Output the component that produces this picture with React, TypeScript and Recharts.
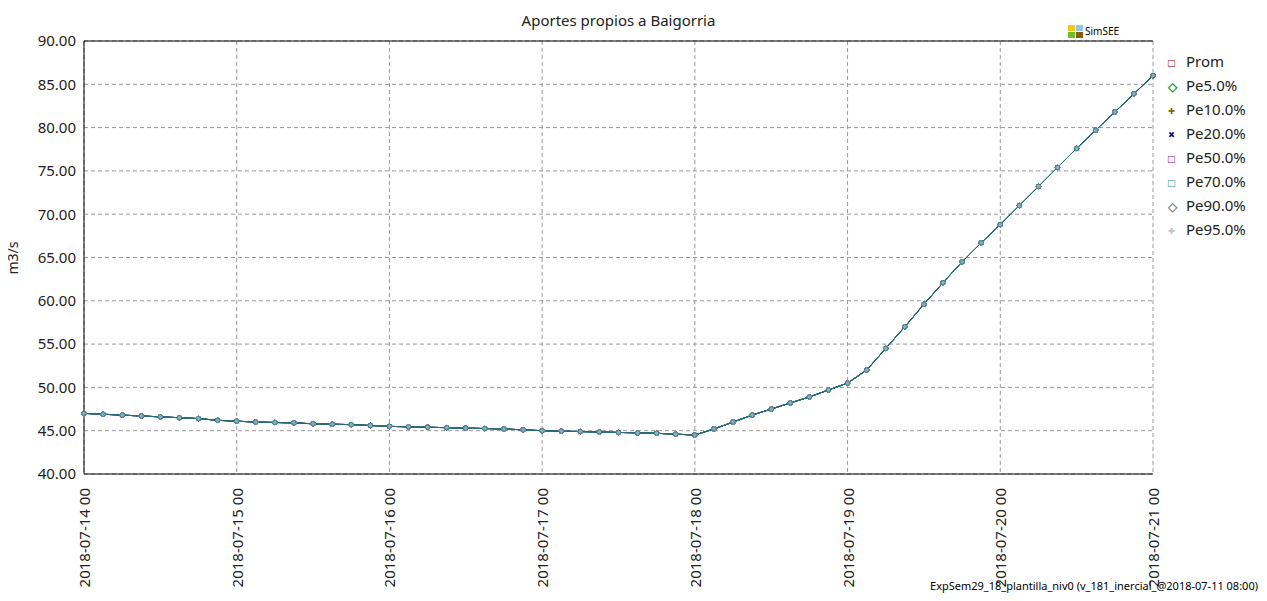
import { CartesianGrid, Line, LineChart, ReferenceLine, XAxis, YAxis } from 'recharts';

const dayLabels = ['2018-07-14 00', '2018-07-15 00', '2018-07-16 00', '2018-07-17 00', '2018-07-18 00', '2018-07-19 00', '2018-07-20 00', '2018-07-21 00'];
const yTicks = [40, 45, 50, 55, 60, 65, 70, 75, 80, 85, 90];
// values every 3 hours, from 2018-07-14 00 to 2018-07-21 00
const values = [
  47.0, 46.9, 46.8, 46.7, 46.6, 46.5, 46.4, 46.2,
  46.1, 46.0, 45.95, 45.9, 45.8, 45.75, 45.7, 45.6,
  45.5, 45.45, 45.4, 45.35, 45.3, 45.25, 45.2, 45.1,
  45.0, 44.95, 44.9, 44.85, 44.8, 44.75, 44.7, 44.6,
  44.5, 45.2, 46.0, 46.8, 47.5, 48.2, 48.9, 49.7,
  50.5, 52.0, 54.5, 57.0, 59.6, 62.1, 64.5, 66.7,
  68.8, 71.0, 73.2, 75.4, 77.6, 79.7, 81.8, 83.9,
  86.0,
];
const series = [
  { key: 'Prom', color: '#8b0000', mark: '□' },
  { key: 'Pe5.0%', color: '#1a8a1a', mark: '◇' },
  { key: 'Pe10.0%', color: '#7a6a00', mark: '+' },
  { key: 'Pe20.0%', color: '#000080', mark: '×' },
  { key: 'Pe50.0%', color: '#8b008b', mark: '□' },
  { key: 'Pe90.0%', color: '#808080', mark: '◇' },
  { key: 'Pe95.0%', color: '#c0c0c0', mark: '+' },
  { key: 'Pe70.0%', color: '#2a8a8a', mark: '□' },
];
const legendOrder = ['Prom', 'Pe5.0%', 'Pe10.0%', 'Pe20.0%', 'Pe50.0%', 'Pe70.0%', 'Pe90.0%', 'Pe95.0%'];

const data = values.map((v, i) => {
  const row: Record<string, number> = { h: i * 3 };
  series.forEach((s) => (row[s.key] = v));
  return row;
});

const font = '"Noto Sans", "Open Sans", sans-serif';

const XTick = ({ x, y, payload }: any) => (
  <text x={x + 6} y={y + 6} transform={`rotate(-90 ${x + 6} ${y + 6})`} textAnchor="end" fontSize={15} fill="#222" fontFamily={font}>
    {dayLabels[payload.value / 24]}
  </text>
);

export default function App() {
  return (
    <div style={{ position: 'relative', width: 1267, height: 601, margin: -8, background: '#fff', fontFamily: font }}>
      <LineChart width={1267} height={601} data={data} margin={{ top: 41, right: 114, left: 0, bottom: 0 }}>
        <CartesianGrid stroke="#999" strokeDasharray="4 3" />
        <XAxis dataKey="h" type="number" domain={[0, 168]} ticks={[0, 24, 48, 72, 96, 120, 144, 168]} tick={<XTick />} height={127} stroke="#000" tickLine={false} />
        <YAxis domain={[40, 90]} ticks={yTicks} tickFormatter={(v) => v.toFixed(2)} width={84} stroke="#000" tick={{ fontSize: 15, fill: '#222', fontFamily: font }} tickLine={false} />
        <ReferenceLine y={90} stroke="#000" />
        {series.map((s) => (
          <Line key={s.key} dataKey={s.key} stroke="#2a6a7a" strokeWidth={1} isAnimationActive={false}
            dot={{ r: 2.2, stroke: s.color, strokeWidth: 1, fill: '#9aa8c8' }} />
        ))}
        <text x={18} y={258} transform="rotate(-90 18 258)" textAnchor="middle" fontSize={14} fill="#222" fontFamily={font}>m3/s</text>
        <text x={1258} y={590} textAnchor="end" fontSize={11} fill="#000" fontFamily={font} stroke="#fff" strokeWidth={3} paintOrder="stroke">ExpSem29_18_plantilla_niv0 (v_181_inercial_@2018-07-11 08:00)</text>
      </LineChart>
      <div style={{ position: 'absolute', top: 10, left: 0, width: 1237, textAlign: 'center', fontSize: 15, color: '#222' }}>Aportes propios a Baigorria</div>
      <div style={{ position: 'absolute', top: 24, left: 1068, display: 'flex', alignItems: 'flex-end', fontSize: 10 }}>
        <div style={{ display: 'grid', gridTemplateColumns: '7px 7px', gap: 1, marginRight: 2 }}>
          <span style={{ width: 7, height: 6, background: '#f5c518' }} />
          <span style={{ width: 7, height: 6, background: '#8fc8f0' }} />
          <span style={{ width: 7, height: 6, background: '#6cc020' }} />
          <span style={{ width: 7, height: 6, background: '#8a5a10' }} />
        </div>
        <span>SimSEE</span>
      </div>
      <div style={{ position: 'absolute', top: 50, left: 1168, fontSize: 15, color: '#222', lineHeight: '23px' }}>
        {legendOrder.map((k) => {
          const s = series.find((x) => x.key === k)!;
          return (
            <div key={k}>
              <span style={{ display: 'inline-block', width: 18, color: s.color, fontWeight: 900, fontSize: 12 }}>{s.mark}</span>
              {k}
            </div>
          );
        })}
      </div>
    </div>
  );
}
